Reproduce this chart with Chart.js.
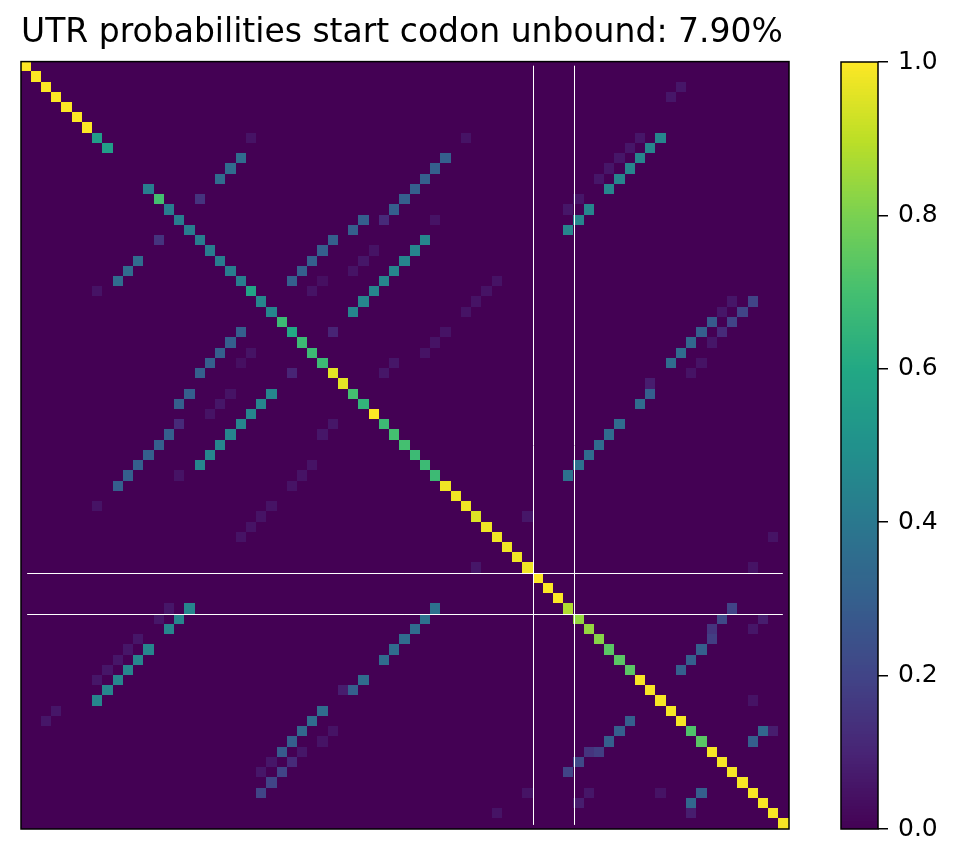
<!DOCTYPE html>
<html><head><meta charset="utf-8">
<script src="https://cdn.jsdelivr.net/npm/chart.js@4/dist/chart.umd.min.js"></script>
<style>
html,body{margin:0;padding:0;background:#fff;}
#wrap{position:relative;width:962px;height:867px;}
canvas{position:absolute;left:0;top:0;}
</style></head><body>
<div id="wrap"><canvas id="c1" width="962" height="867"></canvas><canvas id="c2" width="962" height="867"></canvas></div>
<script>
const N = 75;
const titleText = "UTR probabilities start codon unbound: 7.90%";
const diagValues = [1,1,1,1,1,1,1,0.55,0.55,0,0,0,0.42,0.7,0.42,0.42,0.42,0.42,0.42,0.42,0.42,0.42,0.58,0.45,0.45,
 0.68,0.6,0.68,0.68,0.68,0.96,0.96,0.7,0.65,1.0,0.68,0.7,0.7,0.68,0.68,0.68,0.98,0.98,0.98,0.95,0.98,0.98,0.98,0.98,0.98,
 1,1,1,0.88,0.84,0.84,0.82,0.74,0.74,0.74,0.99,0.99,0.99,0.99,0.99,0.72,0.74,0.99,0.99,0.99,0.99,0.99,0.99,0.99,0.99];
const pairI = [
 2, 3,
 7,7,7,7, 8,8,
 9,9,9,9, 10,10,10,10, 11,11,11,11, 12,12,
 13,13,13, 14,14,14, 15,15,15,15, 16,16, 17,17,
 18,18,18, 19,19,19, 20,20,20, 21,21,21,21, 22,22,22,
 23,23,23,23, 24,24,24,24, 25,25, 26,26,26,26, 27,27,27, 28,28, 29,29,29, 30,30,
 31, 32, 33, 35, 36, 37, 38, 39, 40,
 44, 46, 49,
 53, 54,54, 55,55, 56, 57, 58, 59, 62, 65,65, 66];
const pairJ = [
 64, 63,
 22,43,60,62, 59,61,
 21,41,58,60, 20,40,57,59, 19,39,56,58, 38,57,
 17,37,54, 36,53,55, 33,35,40,54, 32,53, 30,39,
 29,34,38, 28,33,37, 27,32,36, 26,29,35,46, 28,34,45,
 33,44,69,71, 32,43,68,70, 67,69, 30,41,66,68, 40,65,67, 39,64, 36,63,66, 35,65,
 61, 61, 60, 58, 57, 56, 55, 54, 53,
 49, 73, 71,
 69, 68,72, 67,71, 67, 66, 65, 64, 71, 72,73, 71];
const pairP = [
 .06, .06,
 .05,.05,.06,.45, .06,.45,
 .35,.3,.06,.45, .35,.3,.06,.45, .35,.3,.06,.45, .3,.45,
 .15,.3,.06, .3,.06,.45, .3,.12,.05,.45, .3,.45, .3,.45,
 .3,.05,.45, .3,.06,.45, .3,.05,.45, .3,.04,.45,.05, .05,.45,.05,
 .45,.05,.06,.2, .45,.05,.06,.2, .28,.2, .1,.05,.3,.12, .05,.33,.06, .05,.35, .06,.35,.05, .06,.05,
 .08, .3, .35, .35, .35, .35, .35, .37, .37,
 .06, .05, .05,
 .2, .22,.08, .15,.06, .18, .3, .3, .3, .05, .33,.08, .3];
const markPos = [49.5, 53.5];
const cbTicks = [0,0.2,0.4,0.6,0.8,1.0];

const viridis = ['#440154','#482475','#414487','#355f8d','#2a788e','#21918c','#22a884','#44bf70','#7ad151','#bddf26','#fde725'];
function hex(h){return [1,3,5].map(k=>parseInt(h.substr(k,2),16));}
const vstops = viridis.map(hex);
function cmap(v){v=Math.max(0,Math.min(1,v));const t=v*10;const i=Math.min(9,Math.floor(t));const f=t-i;
 const a=vstops[i],b=vstops[i+1];return 'rgb('+a.map((x,k)=>Math.round(x+(b[k]-x)*f)).join(',')+')';}

const M = Array.from({length:N},()=>new Array(N).fill(0));
diagValues.forEach((v,i)=>M[i][i]=v);
pairI.forEach((i,k)=>{M[i][pairJ[k]]=pairP[k];M[pairJ[k]][i]=pairP[k];});
const cells=[];
for(let r=0;r<N;r++)for(let c=0;c<N;c++)cells.push({x:c,y:r,v:M[r][c]});

const heatPlugin={id:'heat',beforeDatasetsDraw(ch){
 const ctx=ch.ctx,xs=ch.scales.x,ys=ch.scales.y;
 ctx.save();
 ch.data.datasets[0].data.forEach(d=>{
  const x0=xs.getPixelForValue(d.x-0.5),x1=xs.getPixelForValue(d.x+0.5);
  const y0=ys.getPixelForValue(d.y-0.5),y1=ys.getPixelForValue(d.y+0.5);
  ctx.fillStyle=cmap(d.v);
  ctx.fillRect(Math.floor(x0),Math.floor(y0),Math.ceil(x1)-Math.floor(x0),Math.ceil(y1)-Math.floor(y0));
 });
 ctx.strokeStyle='#ffffff';ctx.lineWidth=1;
 markPos.forEach(p=>{
  const px=Math.round(xs.getPixelForValue(p))+0.5;
  ctx.beginPath();ctx.moveTo(px,ys.getPixelForValue(-0.1));ctx.lineTo(px,ys.getPixelForValue(74.1));ctx.stroke();
  const py=Math.round(ys.getPixelForValue(p))+0.5;
  ctx.beginPath();ctx.moveTo(xs.getPixelForValue(0.1),py);ctx.lineTo(xs.getPixelForValue(73.9),py);ctx.stroke();
 });
 const a=ch.chartArea;ctx.strokeStyle='#000';ctx.lineWidth=1.5;ctx.strokeRect(a.left,a.top,a.right-a.left,a.bottom-a.top);
 ctx.restore();
}};

new Chart(document.getElementById('c1'),{
 type:'scatter',
 data:{datasets:[{data:cells,pointRadius:0,pointHoverRadius:0}]},
 options:{responsive:false,animation:false,events:[],
  layout:{padding:{left:21,right:173,top:0,bottom:38}},
  scales:{x:{type:'linear',min:-0.5,max:74.5,display:false},y:{type:'linear',min:-0.5,max:74.5,reverse:true,display:false}},
  plugins:{legend:{display:false},tooltip:{enabled:false},
   title:{display:true,text:titleText,align:'start',color:'#000',font:{family:'DejaVu Sans',size:33,weight:'normal',lineHeight:1.2},padding:{top:14,bottom:8}}}},
 plugins:[heatPlugin]
});

const cbPlugin={id:'cb',beforeDatasetsDraw(ch){
 const ctx=ch.ctx,ys=ch.scales.y,a=ch.chartArea;ctx.save();
 for(let k=0;k<256;k++){const v0=k/256,v1=(k+1)/256;const y0=ys.getPixelForValue(v1),y1=ys.getPixelForValue(v0);
  ctx.fillStyle=cmap((k+0.5)/256);ctx.fillRect(a.left,Math.floor(y0),a.right-a.left,Math.ceil(y1)-Math.floor(y0));}
 ctx.strokeStyle='#000';ctx.lineWidth=1.5;ctx.strokeRect(a.left,a.top,a.right-a.left,a.bottom-a.top);ctx.restore();
}};
new Chart(document.getElementById('c2'),{
 type:'scatter',data:{datasets:[{data:[],pointRadius:0}]},
 options:{responsive:false,animation:false,events:[],
  layout:{padding:{left:841,right:0,top:62,bottom:38}},
  scales:{x:{display:false,min:0,max:1},
   y:{position:'right',min:0,max:1,afterFit(s){s.width=84;},
    afterBuildTicks(s){s.ticks=cbTicks.map(v=>({value:v}));},
    ticks:{color:'#000',font:{family:'DejaVu Sans',size:25},padding:10,callback:v=>v.toFixed(1)},
    grid:{drawOnChartArea:false,drawTicks:true,tickLength:10,color:'#000',lineWidth:1.5},border:{display:false}}},
  plugins:{legend:{display:false},tooltip:{enabled:false},title:{display:false}}},
 plugins:[cbPlugin]
});
</script></body></html>
